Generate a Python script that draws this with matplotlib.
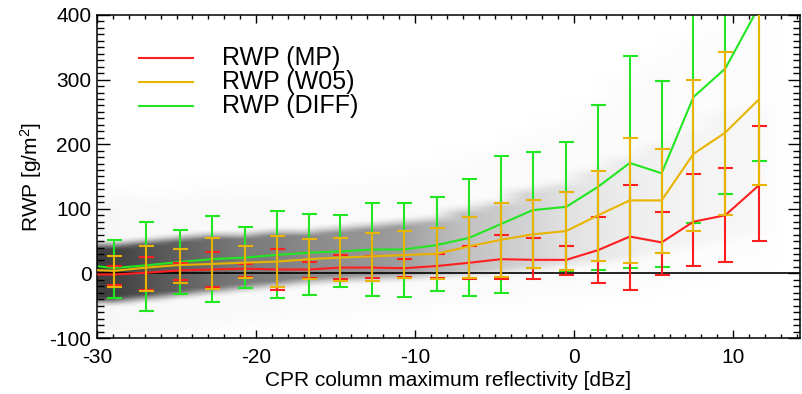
import numpy as np
import matplotlib
matplotlib.use("Agg")
import matplotlib.pyplot as plt
from matplotlib.ticker import MultipleLocator
from matplotlib.lines import Line2D

plt.rcParams['font.family'] = ['Liberation Sans', 'DejaVu Sans']
plt.rcParams['mathtext.default'] = 'regular'
plt.rcParams['axes.unicode_minus'] = False

# ---- bin centres (mean reflectivity of each 2 dBz bin) ----
x_bins = [-30.5, -28.9, -26.9, -24.8, -22.8, -20.7, -18.7, -16.7, -14.7, -12.7, -10.7,
          -8.6, -6.6, -4.6, -2.6, -0.5, 1.5, 3.5, 5.5, 7.5, 9.5, 11.6]

# RWP (MP)
mp_mean = [-1.5, -1.6, 1, 4.7, 6, 7.3, 6, 6, 9, 9, 8, 11.5, 16.5, 22, 21, 21, 36, 57, 48, 80, 90, 136]
mp_hi = [37.5, 11.5, 25.5, 15.6, 33.8, 15, 38.5, 18.2, 28, 27, 22, 29.7, 42.7, 60, 55, 42, 88, 137.5, 95, 153.6, 162.5, 228.6]
mp_lo = [-39, -18, -25, -10.4, -21, -5.7, -25, -6.8, -9.4, -6.8, -5, -7.8, -9.4, -9.4, -9.4, -3, -14.6, -25, -2, 11.5, 17.7, 49.5]

# RWP (W05)
w05_mean = [5.5, 4, 9, 13, 14.6, 16.7, 18.2, 22, 24.5, 26.5, 28.3, 30.5, 42, 52, 60.5, 65.5, 90, 113, 113, 185, 218, 269]
w05_hi = [53, 26.6, 42.7, 38.5, 55, 42, 58, 53, 55, 63, 65, 70, 87, 109, 114, 126, 158, 209, 192.5, 300, 343, 402]
w05_lo = [-43, -21, -27, -14.6, -23.4, -7.8, -20.8, -9.4, -11.5, -11, -7.8, -9.4, -6.8, -5.7, 7.8, 5, 19, 15.6, 31.5, 65, 91, 136.5]

# RWP (DIFF)
diff_mean = [12, 8.5, 12.5, 17.7, 22, 24.5, 28.6, 32, 34, 37, 37, 44, 55, 76.5, 98, 103, 134, 171, 155, 273, 317, 412]
diff_hi = [100, 51.6, 80, 67.7, 89.6, 71.4, 96, 92.7, 91, 109, 109, 119, 146, 181, 188.5, 203, 260, 336, 298, 470, 510, 650]
diff_lo = [-77, -37.5, -58, -32, -44, -23, -38.5, -33, -21, -34.5, -36, -27.6, -35, -30, 8, 3, 6, 7.8, 10, 77.6, 123.4, 174.5]

# ---- estimated extent/density of the background point cloud (per 2 dBz column) ----
cloud_x_edges = list(range(-30, 15, 2))
core_lo = [-45, -40, -35, -30, -25, -20, -15, -12, -10, -8, -5, -3, 0, 5, 10, 15, 20, 30, 40, 50, 60, 100]
core_hi = [45, 50, 55, 60, 60, 65, 65, 70, 75, 80, 85, 100, 110, 130, 140, 160, 180, 200, 220, 250, 260, 200]
core_dens = [0.80, 0.75, 0.70, 0.65, 0.60, 0.58, 0.55, 0.52, 0.50, 0.48, 0.42, 0.36, 0.32, 0.28, 0.22, 0.18, 0.15, 0.12, 0.10, 0.08, 0.06, 0.01]
sparse_lo = [-100, -100, -100, -90, -80, -75, -70, -65, -60, -55, -50, -50, -45, -40, -40, -30, -30, -20, -10, 0, 20, 100]
sparse_hi = [120, 120, 120, 130, 130, 130, 130, 140, 140, 150, 160, 180, 190, 210, 230, 260, 300, 330, 360, 380, 400, 300]
sparse_dens = [0.06, 0.055, 0.05, 0.05, 0.045, 0.045, 0.04, 0.04, 0.04, 0.04, 0.04, 0.035, 0.035, 0.035, 0.03, 0.03, 0.03, 0.03, 0.025, 0.025, 0.02, 0.01]

legend_labels = ['RWP (MP)', 'RWP (W05)', 'RWP (DIFF)']
c_red = '#FF1F1F'
c_orange = '#E8B400'
c_green = '#22E622'

fig = plt.figure(figsize=(8.03, 3.94), dpi=100)
W, H = 803, 394
ax = fig.add_axes([97 / W, 56 / H, (800 - 97) / W, (338 - 15) / H])
ax.set_xlim(-30, 14.2)
ax.set_ylim(-100, 400)

# background cloud as density image with soft edges
y_grid = np.arange(-100, 401, 1.0)
ncol = len(core_lo)
img = np.zeros((len(y_grid), ncol))
soft = 15.0
for i in range(ncol):
    yy = y_grid
    sp = np.clip((yy - sparse_lo[i]) / 30 + 0.5, 0, 1) * np.clip((sparse_hi[i] - yy) / 30 + 0.5, 0, 1)
    co = np.clip((yy - core_lo[i]) / soft + 0.5, 0, 1) * np.clip((core_hi[i] - yy) / soft + 0.5, 0, 1)
    img[:, i] = sparse_dens[i] * sp + (core_dens[i] - sparse_dens[i]) * co
ax.imshow(img, extent=[cloud_x_edges[0], cloud_x_edges[-1], y_grid[0], y_grid[-1]],
          origin='lower', aspect='auto', cmap='Greys', vmin=0, vmax=1,
          interpolation='bilinear', zorder=0)

ax.axhline(0, color='black', lw=1.2, zorder=1)

xb = np.array(x_bins)
def draw(mean, lo, hi, color, z):
    mean = np.array(mean); lo = np.array(lo); hi = np.array(hi)
    ax.errorbar(xb, mean, yerr=[mean - lo, hi - mean], fmt='-', color=color, lw=1.5,
                capsize=5.4, capthick=1.5, elinewidth=1.5, zorder=z)

draw(diff_mean, diff_lo, diff_hi, c_green, 2)
draw(mp_mean, mp_lo, mp_hi, c_red, 3)
draw(w05_mean, w05_lo, w05_hi, c_orange, 4)

ax.xaxis.set_major_locator(MultipleLocator(10))
ax.xaxis.set_minor_locator(MultipleLocator(1))
ax.yaxis.set_major_locator(MultipleLocator(100))
ax.yaxis.set_minor_locator(MultipleLocator(10))
ax.tick_params(which='both', direction='in', top=True, right=True, labelsize=15, width=1)
ax.tick_params(axis='x', which='major', length=6, pad=7)
ax.tick_params(axis='x', which='minor', length=3)
ax.tick_params(axis='y', which='major', length=9, pad=4)
ax.tick_params(axis='y', which='minor', length=5)
for s in ax.spines.values():
    s.set_linewidth(1.1)

ax.set_xlabel('CPR column maximum reflectivity [dBz]', fontsize=15, labelpad=3)
ax.set_ylabel('RWP [g/m$^2$]', fontsize=15, labelpad=4)

# legend (drawn in figure pixel positions)
leg_y = [58.3, 81.7, 105.7]
leg_colors = [c_red, c_orange, c_green]
for yv, col, lab in zip(leg_y, leg_colors, legend_labels):
    fig.add_artist(Line2D([139 / W, 193 / W], [1 - yv / H, 1 - yv / H], color=col, lw=1.5,
                          transform=fig.transFigure))
    fig.text(222 / W, 1 - yv / H, lab, fontsize=18, va='center', ha='left')

fig.savefig('out.png', dpi=100)
